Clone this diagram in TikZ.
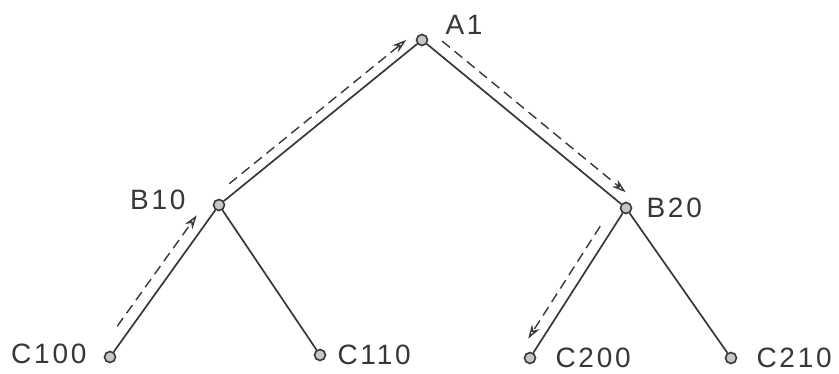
\documentclass[tikz,border=0pt]{standalone}
\usepackage{fontspec}
\newfontfamily\lblfont[LetterSpace=10]{Liberation Sans}
\usetikzlibrary{arrows.meta}
\definecolor{ink}{RGB}{55,55,55}
\tikzset{
  vertex/.style={circle, draw=ink, fill=gray!45, line width=1.6pt, minimum size=11pt, inner sep=0pt},
  lbl/.style={font=\lblfont\fontsize{28}{28}\selectfont, text=ink, inner sep=0pt},
  edge/.style={draw=ink, line width=1.7pt},
  walk/.style={draw=ink, line width=1.4pt, dash pattern=on 10pt off 6pt, -{Stealth[open, length=14pt, width=9pt]}}
}
\begin{document}
\begin{tikzpicture}[x=1pt, y=-1pt]
        \useasboundingbox (0,0) rectangle (839,374);

        % Nodes
        \node[vertex, label={[lbl, anchor=west, xshift=17pt, yshift=15pt]right:A1}] (a1) at (422,40) {};
        \node[vertex, label={[lbl, anchor=east, xshift=-27pt, yshift=5pt]left:B10}] (b10) at (219,205) {};
        \node[vertex, label={[lbl, anchor=west, xshift=14pt]right:B20}] (b20) at (626,208) {};
        \node[vertex, label={[lbl, anchor=east, xshift=-17pt, yshift=3pt]left:C100}] (c100) at (110,357) {};
        \node[vertex, label={[lbl, anchor=west, xshift=11pt]right:C110}] (c110) at (320,355) {};
        \node[vertex, label={[lbl, anchor=west, xshift=19pt]right:C200}] (c200) at (530,358) {};
        \node[vertex, label={[lbl, anchor=west, xshift=19pt]right:C210}] (c210) at (731,358) {};

        % Tree
        \draw[edge] (a1) -- (b10);
        \draw[edge] (a1) -- (b20);
        \draw[edge] (b10) -- (c100);
        \draw[edge] (b10) -- (c110);
        \draw[edge] (b20) -- (c200);
        \draw[edge] (b20) -- (c210);

        % Path (dashed)
        \draw[walk, transform canvas={shift={(-9.8,-7)}}, shorten <=23pt, shorten >=15pt] (c100) -- (b10);
        \draw[walk, transform canvas={shift={(-6.3,-7.8)}}, shorten <=15pt, shorten >=6pt] (b10) -- (a1);
        \draw[walk, transform canvas={shift={(7.6,-9.3)}}, shorten <=10pt, shorten >=4pt] (a1) -- (b20);
        \draw[walk, transform canvas={shift={(-10,-6.5)}}, shorten <=23pt, shorten >=9pt] (b20) -- (c200);
    \end{tikzpicture}
\end{document}
